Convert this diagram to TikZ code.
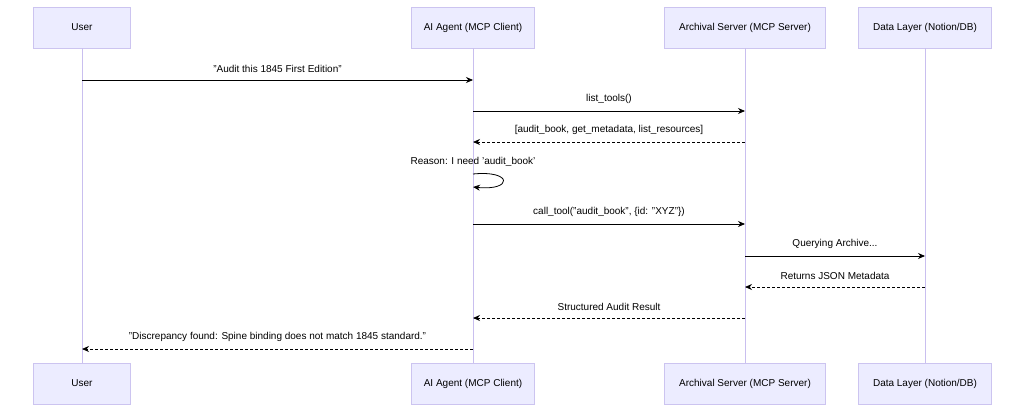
\documentclass[tikz,border=0pt]{standalone}
\usepackage{fontspec}
\setmainfont{Liberation Sans}[Ligatures=ResetAll]
\usetikzlibrary{arrows.meta, calc}
\definecolor{actfill}{HTML}{ECECFF}
\definecolor{actline}{HTML}{CCC4F0}
\definecolor{lifeline}{HTML}{C9BFEF}
\tikzset{x=1pt, y=-1pt,
  actor/.style={draw=actline, fill=actfill, minimum height=41pt, font=\fontsize{10}{12}\selectfont},
  msg/.style={draw, thick, -{Stealth[length=7pt,width=6pt]}},
  reply/.style={msg, densely dashed},
  lbl/.style={font=\fontsize{10}{12}\selectfont, above=4pt}}

\begin{document}
\begin{tikzpicture}
  \useasboundingbox (0,0) rectangle (1024,412);
  % actors top and bottom
  \node[actor, minimum width=97pt] (ut) at (82,27.5) {User};
  \node[actor, minimum width=123pt] (at) at (473,27.5) {AI Agent (MCP Client)};
  \node[actor, minimum width=161pt] (st) at (745,27.5) {Archival Server (MCP Server)};
  \node[actor, minimum width=133pt] (dt) at (925,27.5) {Data Layer (Notion/DB)};
  \node[actor, minimum width=97pt] (ub) at (82,383.5) {User};
  \node[actor, minimum width=123pt] (ab) at (473,383.5) {AI Agent (MCP Client)};
  \node[actor, minimum width=161pt] (sb) at (745,383.5) {Archival Server (MCP Server)};
  \node[actor, minimum width=133pt] (db) at (925,383.5) {Data Layer (Notion/DB)};
  \foreach \a/\b in {ut/ub, at/ab, st/sb, dt/db}
    \draw[lifeline, semithick] (\a.south) -- (\b.north);

  % message anchors on the lifelines
  \foreach \n/\y in {1/80, 2/111, 3/142, 4/174, 5/187, 6/224, 7/256, 8/287, 9/318, 10/349} {
    \coordinate (u\n) at (ut |- 0,\y);
    \coordinate (a\n) at (at |- 0,\y);
    \coordinate (s\n) at (st |- 0,\y);
    \coordinate (d\n) at (dt |- 0,\y);
  }

  \draw[msg] (u1) -- node[lbl] {"Audit this 1845 First Edition"} (a1);
  \draw[msg] (a2) -- node[lbl] {list\_tools()} (s2);
  \draw[reply] (s3) -- node[lbl] {[audit\_book, get\_metadata, list\_resources]} (a3);
  \draw[msg] (a4) .. controls ($(a4)+(40,-4)$) and ($(a5)+(40,4)$) .. (a5);
  \node[lbl] at (a4) {Reason: I need 'audit\_book'};
  \draw[msg] (a6) -- node[lbl] {call\_tool("audit\_book", \{id: "XYZ"\})} (s6);
  \draw[msg] (s7) -- node[lbl] {Querying Archive...} (d7);
  \draw[reply] (d8) -- node[lbl] {Returns JSON Metadata} (s8);
  \draw[reply] (s9) -- node[lbl] {Structured Audit Result} (a9);
  \draw[reply] (a10) -- node[lbl] {"Discrepancy found: Spine binding does not match 1845 standard."} (u10);
\end{tikzpicture}
\end{document}
